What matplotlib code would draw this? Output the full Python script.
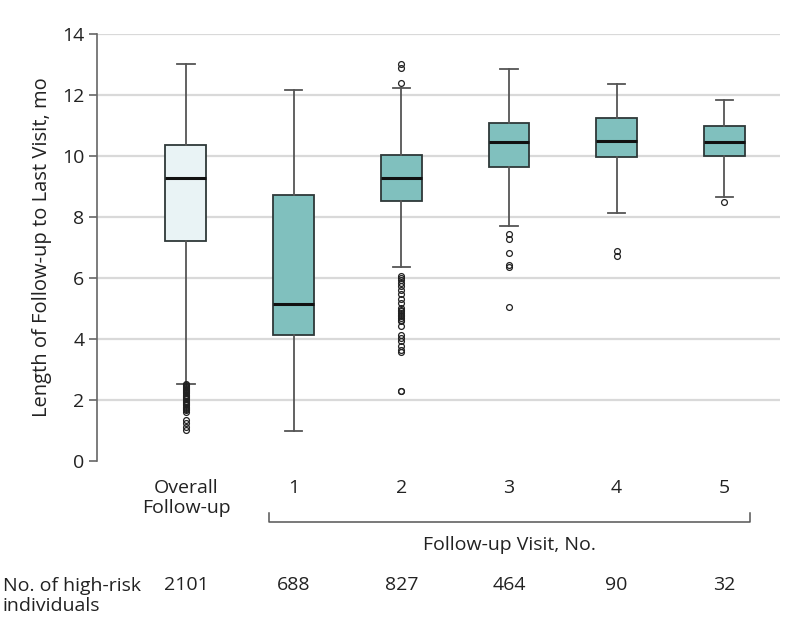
import matplotlib
matplotlib.use("Agg")
import matplotlib.pyplot as plt
import matplotlib.transforms as mtransforms
from matplotlib import font_manager

# ---------------- data ----------------
categories = ["Overall\nFollow-up", "1", "2", "3", "4", "5"]
whislo = [2.53, 1.00, 6.37, 7.72, 8.13, 8.64]
q1 = [7.21, 4.13, 8.52, 9.63, 9.96, 10.00]
med = [9.27, 5.15, 9.27, 10.45, 10.49, 10.45]
q3 = [10.35, 8.72, 10.03, 11.08, 11.24, 11.00]
whishi = [13.03, 12.17, 12.22, 12.85, 12.36, 11.82]
fliers_overall = [2.52, 2.49, 2.46, 2.43, 2.40, 2.37, 2.34, 2.30, 2.26, 2.22, 2.18,
                  2.14, 2.10, 2.06, 2.02, 1.98, 1.94, 1.90, 1.86, 1.82, 1.78, 1.74,
                  1.70, 1.66, 1.62, 1.33, 1.25, 1.12, 1.03]
fliers_v1 = []
fliers_v2 = [13.02, 12.90, 12.39, 6.06, 5.99, 5.92, 5.85, 5.73, 5.60, 5.46, 5.32,
             5.19, 5.02, 4.96, 4.91, 4.85, 4.80, 4.74, 4.69, 4.63, 4.58, 4.42,
             4.14, 4.04, 3.92, 3.78, 3.65, 3.56, 2.31, 2.28]
fliers_v3 = [7.44, 7.27, 6.83, 6.43, 6.35, 5.04]
fliers_v4 = [6.90, 6.73]
fliers_v5 = [8.50]
counts = ["2101", "688", "827", "464", "90", "32"]
yticks = [0, 2, 4, 6, 8, 10, 12, 14]
ylabel = "Length of Follow-up to Last Visit, mo"
group_label = "Follow-up Visit, No."
count_label = "No. of high-risk\nindividuals"

fliers_all = [fliers_overall, fliers_v1, fliers_v2, fliers_v3, fliers_v4, fliers_v5]

# ---------------- fonts ----------------
avail = {f.name for f in font_manager.fontManager.ttflist}
fam = [f for f in ["Liberation Sans Narrow", "DejaVu Sans Condensed", "Open Sans", "DejaVu Sans"] if f in avail]
plt.rcParams['font.family'] = fam if fam else ['DejaVu Sans']
FS = 14
TXT = "#222222"

# ---------------- figure ----------------
fig = plt.figure(figsize=(7.94, 6.37), dpi=100)
ax = fig.add_axes([97/794, 1 - 461/637, (780 - 97)/794, (461 - 34)/637])

stats = []
for i in range(len(categories)):
    stats.append(dict(med=med[i], q1=q1[i], q3=q3[i], whislo=whislo[i],
                      whishi=whishi[i], fliers=fliers_all[i], label=categories[i]))

positions = list(range(len(categories)))
bp = ax.bxp(stats, positions=positions, widths=0.38, capwidths=0.16,
            patch_artist=True, showfliers=True,
            boxprops=dict(edgecolor="#2e3838", linewidth=1.3),
            medianprops=dict(color="#111111", linewidth=2.2),
            whiskerprops=dict(color="#555555", linewidth=1.3),
            capprops=dict(color="#555555", linewidth=1.3),
            flierprops=dict(marker="o", markersize=4.2, markerfacecolor="none",
                            markeredgecolor="#222222", markeredgewidth=0.9))
for i, patch in enumerate(bp["boxes"]):
    patch.set_facecolor("#e9f3f5" if i == 0 else "#80c0be")
for b in bp["boxes"] + bp["whiskers"] + bp["caps"] + bp["medians"] + bp["fliers"]:
    b.set_zorder(3)

ax.set_ylim(0, 14)
ax.set_xlim(-0.826, 5.517)
ax.set_yticks(yticks)
ax.set_yticklabels([str(t) for t in yticks], fontsize=FS, color=TXT)
for t in yticks[1:]:
    ax.axhline(t, color="#d9d9d9", linewidth=1.6, zorder=1)

for s in ["top", "right", "bottom"]:
    ax.spines[s].set_visible(False)
ax.spines["left"].set_color("#666666")
ax.spines["left"].set_linewidth(1.2)
ax.tick_params(axis="y", direction="out", length=6, width=1.2, color="#666666", pad=3)
ax.tick_params(axis="x", length=0, pad=13, labelsize=FS, labelcolor=TXT)
ax.set_xticks(positions)
ax.set_xticklabels(categories, linespacing=1.15)
ax.set_ylabel(ylabel, fontsize=14.5, color=TXT, labelpad=7)

# bracket under visit categories
trans = mtransforms.blended_transform_factory(ax.transData, fig.transFigure)
y_top = 1 - 513/637
y_bot = 1 - 522/637
xl, xr = 0.77, 5.24
ax.plot([xl, xl, xr, xr], [y_top, y_bot, y_bot, y_top], transform=trans,
        color="#555555", linewidth=1.1, clip_on=False)
fig.text(3.0, 1 - 545/637, group_label, transform=trans, fontsize=FS,
         ha="center", va="center", color=TXT)

# count row
for i, c in enumerate(counts):
    fig.text(positions[i], 1 - 585/637, c, transform=trans, fontsize=FS,
             ha="center", va="center", color=TXT)
fig.text(3/794, 1 - 596/637, count_label, fontsize=FS, ha="left", va="center",
         color=TXT, linespacing=1.2)

fig.savefig("out.png", dpi=100)
